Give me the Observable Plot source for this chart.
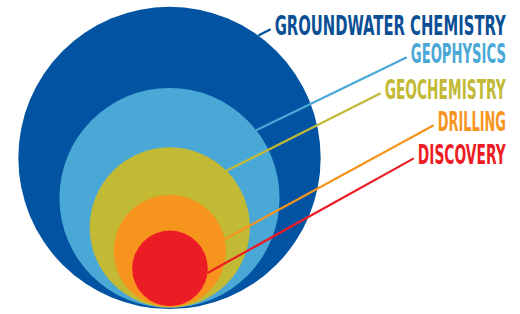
<!DOCTYPE html>
<html>
<head>
<meta charset="utf-8">
<script src="https://cdn.jsdelivr.net/npm/d3@7"></script>
<script src="https://cdn.jsdelivr.net/npm/@observablehq/plot@0.6"></script>
<style>
  html, body { margin: 0; padding: 0; background: #fff; }
  #chart svg { display: block; }
</style>
</head>
<body>
<div id="chart"></div>
<script>
// ---- data (relative units; outer circle radius = 100) ----
const stages   = ["GROUNDWATER CHEMISTRY", "GEOPHYSICS", "GEOCHEMISTRY", "DRILLING", "DISCOVERY"];
const radius   = [100, 72.8, 53, 37.1, 25];
const centerX  = [0, 0, 0.2, 0.2, 0.3];
const centerY  = [100.3, 73.8, 54.3, 38.7, 27.2];
const leaderAngle = [54, 38, 45, 12, -7];          // degrees, where the leader leaves the circle
const leaderEndX  = [66.9, 157.0, 139.7, 174.8, 161.6];
const leaderEndY  = [185.4, 166.9, 143.0, 121.9, 100.0];
const colors   = ["#0253a1", "#4aa8d7", "#c2b935", "#f7941e", "#ec1c24"];
const textColors = ["#0b4f95", "#4aa8d7", "#c2b935", "#f7941e", "#ec1c24"];

const rows = stages.map((s, i) => {
  const a = leaderAngle[i] * Math.PI / 180;
  return {
    stage: s, r: radius[i], cx: centerX[i], cy: centerY[i],
    x1: centerX[i] + radius[i] * Math.cos(a),
    y1: centerY[i] + radius[i] * Math.sin(a),
    x2: leaderEndX[i], y2: leaderEndY[i],
    color: colors[i], tcolor: textColors[i]
  };
});

const W = 520, H = 314;
const xDomain = [-111.8, 232.2];
const k = W / (xDomain[1] - xDomain[0]);
const yDomain = [-5 / k, (H - 5) / k];

const plot = Plot.plot({
  width: W, height: H,
  margin: 0,
  x: {domain: xDomain, axis: null},
  y: {domain: yDomain, axis: null},
  r: {type: "linear", domain: [0, 100], range: [0, 100 * k]},
  marks: [
    Plot.dot(rows, {x: "cx", y: "cy", r: "r", fill: d => d.color, stroke: "none", sort: null}),
    Plot.link(rows, {x1: "x1", y1: "y1", x2: "x2", y2: "y2", stroke: d => d.color, strokeWidth: 2.2}),
    Plot.text(rows, {
      x: "x2", y: "y2", text: "stage", fill: d => d.tcolor,
      textAnchor: "start", dx: 4, dy: -3,
      fontFamily: "DejaVu Sans Condensed", fontWeight: "bold", fontSize: 27
    })
  ]
});

document.getElementById("chart").appendChild(plot);

// condense the labels so they end near the right edge, like the tall condensed type of the original
const rightEdge = 506;
const svgLeft = plot.getBoundingClientRect().left;
d3.select(plot).selectAll("g[aria-label=text] text").each(function() {
  const b = this.getBoundingClientRect();
  const left = b.left - svgLeft;
  const s = Math.min(0.615, (rightEdge - left) / b.width);
  const t = this.getAttribute("transform") || "";
  this.setAttribute("transform", t + ` scale(${s},1)`);
});
</script>
</body>
</html>
